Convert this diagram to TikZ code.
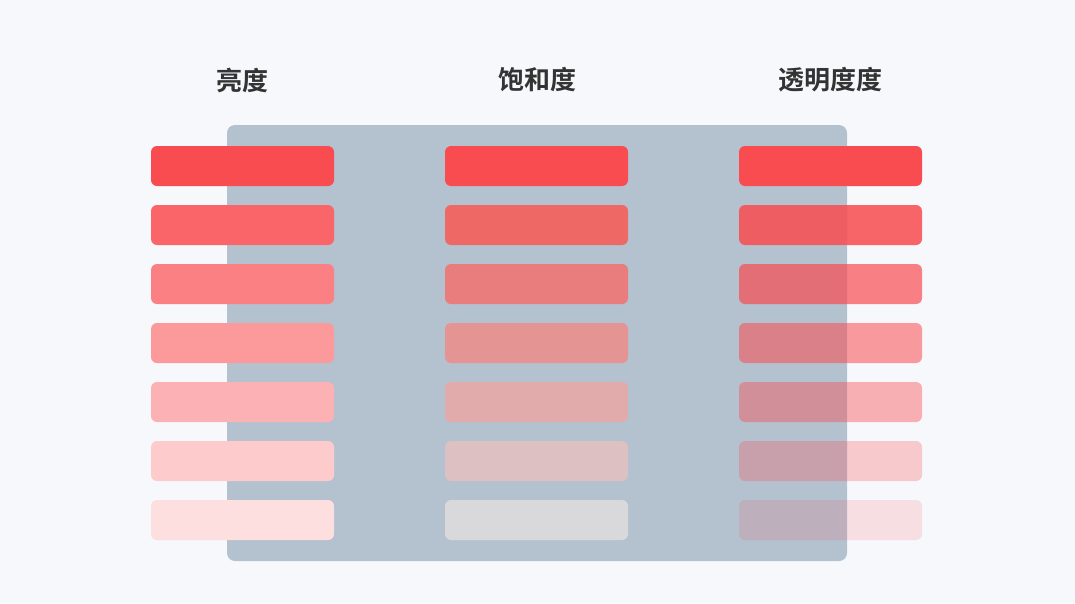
\documentclass[tikz,border=0pt]{standalone}
\usepackage{fontspec}
\newfontfamily\cjk{Noto Sans CJK SC}[BoldFont={Noto Sans CJK SC Bold}]
\usepackage{tikz}
\usetikzlibrary{positioning}

\definecolor{pagebg}{HTML}{F7F8FC}
\definecolor{panelgray}{HTML}{B4C1CF}
\definecolor{basered}{HTML}{F94C50}
\definecolor{titlegray}{HTML}{333333}

\tikzset{
  bar/.style={minimum width=183pt, minimum height=40pt, inner sep=0pt, rounded corners=6pt},
  title/.style={font=\cjk\bfseries\fontsize{26}{30}\selectfont, text=titlegray}
}

\begin{document}
\begin{tikzpicture}[x=1pt,y=-1pt]
\fill[pagebg] (0,0) rectangle (1075,603);
\useasboundingbox (0,0) rectangle (1075,603);
\fill[panelgray, rounded corners=8pt] (227,125) rectangle (847,561);

\node[title] (lum) at (242,80) {亮度};
\node[title] (sat) at (537,80) {饱和度};
\node[title] (alp) at (830,80) {透明度度};

% brightness
\foreach \i/\w in {1/0,2/14,3/29,4/43,5/57,6/71,7/82}
  \node[bar, fill=basered!\the\numexpr100-\w\relax!white] (lum\i) at (242.5,{166+59*(\i-1)}) {};
% saturation
\foreach \i/\c in {1/F94C50,2/EE6865,3/E97C7C,4/E59494,5/E1ABAB,6/DDC0C2,7/D9D9DB}{
  \definecolor{satfill}{HTML}{\c}
  \node[bar, fill=satfill] (sat\i) at (536.5,{166+59*(\i-1)}) {};
}
% opacity
\foreach \i/\o in {1/1,2/0.85,3/0.7,4/0.55,5/0.42,6/0.28,7/0.15}
  \node[bar, fill=basered, fill opacity=\o] (alp\i) at (830.5,{166+59*(\i-1)}) {};
\end{tikzpicture}
\end{document}
